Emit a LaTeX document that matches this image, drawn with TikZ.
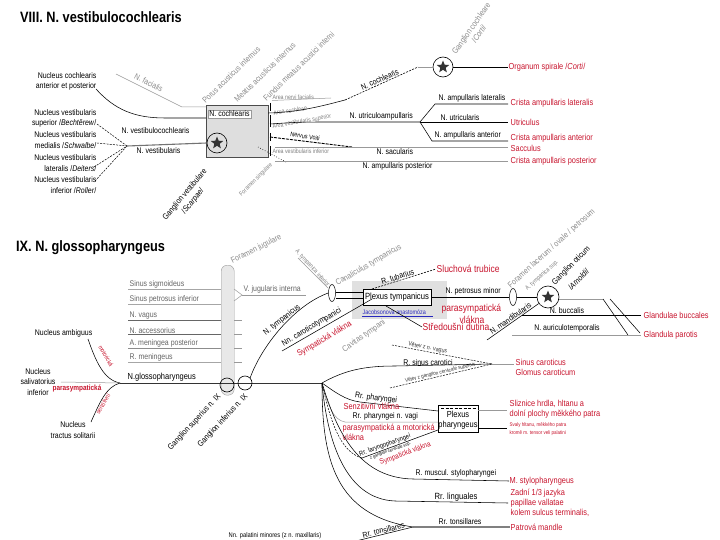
\documentclass[tikz,border=0pt]{standalone}
\usepackage{fontspec}
\setmainfont{Liberation Sans}
\newfontfamily\nar[FakeStretch=0.85]{Liberation Sans}
\usetikzlibrary{shapes.geometric}
\definecolor{myred}{RGB}{200,20,45}
\definecolor{myblue}{RGB}{40,40,190}
\begin{document}
\begin{tikzpicture}[x=1pt,y=-1pt,
  lab/.style={font=\nar\fontsize{8.2}{10.5}\selectfont, inner sep=0.5pt},
  glab/.style={font=\nar\fontsize{8.3}{9.5}\selectfont, text=black!45, inner sep=0.5pt},
  tlab/.style={font=\nar\fontsize{6.2}{7}\selectfont, text=black!50, inner sep=0.3pt},
  rlab/.style={font=\nar\fontsize{8.7}{10}\selectfont, text=myred, inner sep=0.5pt},
  rbig/.style={font=\nar\fontsize{10}{11}\selectfont, text=myred, inner sep=0.5pt},
  rtiny/.style={font=\nar\fontsize{5.3}{8}\selectfont, text=myred, inner sep=0.3pt},
  ttl/.style={font=\nar\bfseries\fontsize{15}{17}\selectfont, inner sep=0},
  nl/.style={draw=black, line width=0.55pt},
  gl/.style={draw=black!40, line width=0.5pt},
  dl/.style={draw=black, line width=0.5pt, dash pattern=on 2pt off 1.2pt},
  bl/.style={draw=black!75, line width=1.1pt},
  gang/.style={circle, draw, line width=0.6pt, minimum size=20pt, inner sep=0},
  gstar/.style={star, star points=5, star point ratio=2.3, fill=black!80, inner sep=0, minimum size=13pt},
  oval/.style={ellipse, draw, line width=0.5pt, fill=white, inner sep=0, minimum width=7pt, minimum height=17pt},
  bracket/.style={draw=black, line width=0.5pt}]
\useasboundingbox (0,0) rectangle (720,540);
\fill[white] (0,0) rectangle (720,540);

% ================= VIII =================
\node[ttl, anchor=west] (t8) at (20,17) {VIII. N. vestibulocochlearis};

\node[lab, align=right, anchor=east] (nc) at (97,81.5) {Nucleus cochlearis\\anterior et posterior};
\node[lab, align=right, anchor=east] (nvs) at (97,118.5) {Nucleus vestibularis\\superior /\textit{Bechtěrew}/};
\node[lab, align=right, anchor=east] (nvm) at (97,140) {Nucleus vestibularis\\medialis /\textit{Schwalbe}/};
\node[lab, align=right, anchor=east] (nvl) at (97,163) {Nucleus vestibularis\\lateralis /\textit{Deiters}/};
\node[lab, align=right, anchor=east] (nvi) at (97,185) {Nucleus vestibularis\\inferior /\textit{Roller}/};

% box (meatus)
\node[draw=black!70, fill=black!13, minimum width=62pt, minimum height=52pt, inner sep=0, anchor=north west] (box8) at (206,105) {};
\node[lab, fill=white, draw=black!40, inner sep=1.2pt, anchor=west] (ncoch) at (208,114) {N. cochlearis};
\node[gang] (g8v) at (217,143) {};
\node[gstar] (s8v) at (g8v) {};

% N. facialis
\coordinate (fa1) at (116,74);
\coordinate (fa2) at (182,107);
\draw[gl] (fa1) -- (fa2) -- (box8.north west |- fa2);
\node[glab, rotate=-27, anchor=south] (lfa) at (147,86) {N. facialis};

% cochlear line
\coordinate (c1) at (96,89);
\draw[nl] (c1) .. controls (115,110) and (135,118) .. (165,118) -- (206,118);
\node[lab, anchor=west] (lvc) at (121,131) {N. vestibulocochlearis};

% vestibular nuclei convergence
\coordinate (cj) at (127,146);
\draw[dl] (97,124) -- (cj);
\draw[dl] (97,143) -- (cj);
\draw[dl] (94,167) -- (cj);
\draw[dl] (95,181) -- (cj);
\draw[bl, draw=black!55] (cj) -- (g8v.west);
\node[lab, anchor=west] (lvs) at (136,151) {N. vestibularis};
\node[lab, rotate=50, align=center] (lgv) at (189,198) {Ganglion vestibulare\\/\textit{Scarpae}/};

% rotated gray labels above box
\node[glab, rotate=44, anchor=west] (lpor) at (203,102) {Porus acusticus internus};
\node[glab, rotate=44, anchor=west] (lmea) at (235,101) {Meatus acusticus internus};
\node[glab, rotate=44, anchor=west] (lfun) at (264,100) {Fundus meatus acustici interni};

% small area labels right of box
\draw[bracket] (270,103) -- (270,111);
\draw[bracket] (270,115) -- (270,127);
\draw[bracket] (270,133) -- (270,141);
\draw[bracket] (270,146) -- (270,156);
\node[tlab, anchor=south west] (lanf) at (272,100) {Area nervi facialis};
\draw[gl] (272,100.5) -- (331,98);
\node[tlab, rotate=8, anchor=west] (lac) at (273,113) {Area cochleae};
\node[tlab, rotate=10, anchor=west] (lavs) at (272,127) {Area vestibularis superior};
\node[font=\nar\fontsize{6.5}{7}\selectfont, rotate=-9, anchor=west, inner sep=0.3pt] (lvoi) at (290,134) {Nervus Voiti};
\draw[line width=0.9pt, dash pattern=on 3pt off 1pt] (270,137) -- (352,147);
\node[tlab, anchor=west] (lavi) at (272,151) {Area vestibularis inferior};
\draw[dotted, line width=0.6pt] (258,147) -- (286,162);
\node[tlab, rotate=45, anchor=east] (lfs) at (272,164) {Foramen singulare};

% N. cochlearis to ganglion cochleare
\coordinate (co1) at (345,100);
\coordinate (co2) at (418,67);
\node[gang] (g8c) at (443,67) {};
\node[gstar] (s8c) at (g8c) {};
\draw[nl] (box8.east |- 0,113) .. controls (300,112) and (322,106) .. (co1);
\draw[dl, line width=0.6pt] (co1) -- node[lab, sloped, above=0.5pt] {N. cochlearis} (co2);
\draw[gl] (co2) -- (g8c.west);
\coordinate (oc) at (508,67);
\draw[nl] (g8c.east) -- (oc);
\node[rlab, anchor=west] (rorg) at (oc) {Organum spirale /\textit{Corti}/};
\node[glab, rotate=55, align=center] (lgc) at (475,31) {Ganglion cochleare\\/\textit{Corti}/};

% N. utriculoampullaris
\coordinate (ua) at (420,122);
\draw[nl] (270,124) .. controls (300,122) .. (335,122) -- (ua);
\node[lab, anchor=south west] (lua) at (349,121) {N. utriculoampullaris};
\coordinate (al1) at (435,104);
\coordinate (al2) at (508,104);
\draw[nl] (ua) -- (al1) -- (al2);
\node[lab, anchor=south west] (lal) at (438,103) {N. ampullaris lateralis};
\coordinate (ut2) at (508,122);
\draw[nl] (ua) -- (ut2);
\node[lab, anchor=south west] (lut) at (440,121) {N. utricularis};
\coordinate (aa1) at (432,141);
\coordinate (aa2) at (508,141);
\draw[nl] (ua) -- (aa1) -- (aa2);
\node[lab, anchor=south west] (laa) at (434,140) {N. ampullaris anterior};
\coordinate (sa2) at (508,147);
\draw[gl] (275,147) -- (sa2);
\node[lab, anchor=north west] (lsa) at (376,148) {N. sacularis};
\coordinate (ap2) at (508,161);
\draw[gl] (275,161) -- (ap2);
\node[lab, anchor=north west] (lap) at (362,162) {N. ampullaris posterior};

\node[rlab, anchor=west] (r1) at (510,103.5) {Crista ampullaris lateralis};
\node[rlab, anchor=west] (r2) at (510,122) {Utriculus};
\node[rlab, anchor=west] (r3) at (510,138.5) {Crista ampullaris anterior};
\node[rlab, anchor=west] (r4) at (510,148) {Sacculus};
\node[rlab, anchor=west] (r5) at (510,161) {Crista ampullaris posterior};

% ================= IX =================
\node[ttl, anchor=west] (t9) at (16,248) {IX. N. glossopharyngeus};

\node[draw=black!40, fill=black!9, rounded corners=6pt, minimum width=13pt, minimum height=130pt, inner sep=0, anchor=north west] (band) at (221,265) {};
\node[glab, rotate=27, anchor=west] (lfj) at (231,262) {Foramen jugulare};

\foreach \yy/\tx/\cl in {289/Sinus sigmoideus/black!35, 304/Sinus petrosus inferior/black!35, 320/N. vagus/black!60, 334/N. accessorius/black!60, 348/A. meningea posterior/black!45, 362/R. meningeus/black!35}{
  \node[lab, text=black!60, anchor=south west] at (129,\yy) {\tx};
  \draw[draw=\cl, line width=0.5pt] (128,\yy) -- (221,\yy);
}
\foreach \yy in {320,334,348,362}{ \draw[gl] (234,\yy) -- (242,\yy); }
\coordinate (vj) at (242,295);
\draw[gl] (234,289) -- (vj) -- (234,301);
\coordinate (vj2) at (306,295);
\draw[gl] (vj) -- (vj2);
\node[lab, text=black!60, anchor=south west] (lvj) at (243,294) {V. jugularis interna};

% main trunk
\coordinate (fan) at (322,383);
\coordinate (m0) at (120,383);
\draw[nl, line width=0.8pt, draw=black!80] (m0) -- (fan);
\node[circle, draw, line width=0.6pt, minimum size=14pt, inner sep=0] (gsup) at (227,385) {};
\node[circle, draw, line width=0.6pt, minimum size=14pt, inner sep=0] (ginf) at (245,383) {};
\node[lab, font=\nar\fontsize{8.8}{10}\selectfont, anchor=south west] (lgp) at (127,382) {N.glossopharyngeus};
\node[lab, rotate=47, anchor=east] (lgs) at (220,395) {Ganglion superius n. IX};
\node[lab, rotate=47, anchor=east] (lgi) at (247,395) {Ganglion inferius n. IX};

% nuclei
\node[lab, anchor=east] (namb) at (93,333) {Nucleus ambiguus};
\draw[nl] (88,339) .. controls (96,362) and (104,380) .. (m0);
\node[rlab, font=\nar\fontsize{6.3}{7}\selectfont, rotate=-60] (rmot) at (106,356) {motorická};
\node[lab, align=center] (nsal) at (38,382) {Nucleus\\salivatorius\\inferior};
\draw[gl] (61,382) -- (m0);
\node[rlab, font=\nar\bfseries\fontsize{7.6}{9}\selectfont] (rpar) at (77,388.5) {parasympatická};
\node[lab, align=center] (nts) at (73,430) {Nucleus\\tractus solitarii};
\draw[nl] (91,422) .. controls (100,402) and (106,387) .. (m0);
\node[rlab, font=\nar\fontsize{6.3}{7}\selectfont, rotate=60] (rsen) at (103,404) {senzitivní};

% N. tympanicus
\node[oval] (ov1) at (332,293) {};
\draw[nl] (ginf.north east) .. controls (262,345) and (295,305) .. (ov1.west);
\node[lab, rotate=38] (lnt) at (282,320) {N. tympanicus};
\node[glab, rotate=30, anchor=west] (lct) at (336,284) {Canaliculus tympanicus};
\node[tlab, rotate=-48, anchor=west] (lati) at (296,250) {A. tympanica inferior};
\draw[gl, line width=0.4pt] (298,258) -- (328,288);

% plexus tympanicus
\fill[black!12] (352,281) rectangle (447,319);
\node[lab, font=\nar\fontsize{9}{10}\selectfont, draw, fill=white, minimum width=68pt, minimum height=16pt, inner sep=1pt] (ptym) at (397,297) {Plexus tympanicus};
\draw[nl] (ov1.east |- 0,292) -- (ptym.west |- 0,292);
\draw[nl] (ov1.east |- 0,298) -- (ptym.west |- 0,298);
\node[font=\nar\fontsize{6.4}{7}\selectfont, text=myblue, anchor=west, inner sep=0.5pt] (ljac) at (362,312.5) {Jacobsonova anastomóza};
\draw[myblue, line width=0.4pt] (362,316) -- (433,316);

\coordinate (tub) at (436,269);
\draw[dl, line width=0.6pt] (372,289) -- node[lab, sloped, above=0.3pt, pos=0.42] {R. tubarius} (tub);
\node[rbig, anchor=west] (rsl) at (tub) {Sluchová trubice};

\node[oval] (ov2) at (513,297) {};
\draw[nl] (ptym.east) -- (ov2.west);
\node[lab, anchor=south west] (lpm) at (445,296) {N. petrosus minor};
\node[rbig, anchor=west] (rpa1) at (441,308.5) {parasympatická};
\node[rbig, anchor=west] (rpa2) at (459,320) {vlákna};
\coordinate (sd) at (422,327);
\draw[nl] (386,306) -- (sd);
\node[rbig, anchor=west] (rsd) at (sd) {Středoušní dutina};
\node[glab, rotate=35] (lcav) at (364,336) {Cavitas tympani};

% Nn. caroticotympanici
\coordinate (ct1) at (282,351);
\draw[nl] (ct1) -- (372,299);
\node[lab, rotate=31, anchor=south] (lnct) at (314,331) {Nn. caroticotympanici};
\node[rlab, rotate=31, anchor=north] (rsym1) at (322,335) {Sympatická vlákna};

% ganglion oticum
\node[gang, minimum size=22pt] (got) at (548,297) {};
\node[gstar] (sot) at (got) {};
\draw[nl] (ov2.east) -- (got.west);
\node[glab, rotate=42, anchor=west] (lfl) at (509,287) {Foramen lacerum / ovale / petrosum};
\node[tlab, rotate=42, anchor=west] (lats) at (526,290) {A. tympanica sup.};
\node[lab, rotate=45, anchor=west] (lgo) at (553,284) {Ganglion oticum};
\node[lab, rotate=45, anchor=west] (lgo2) at (569,289) {/\textit{Arnoldi}/};
\coordinate (md) at (487,340);
\draw[nl] (md) -- node[lab, sloped, above=0.3pt, pos=0.5] {N. mandibularis} (got);
\coordinate (go2) at (603,299);
\draw[gl] (got.east |- go2) -- (go2);
\draw[nl] (go2) -- (628,335);
\draw[nl] (610,299) -- (640,333);
\coordinate (bu1) at (522,315);
\coordinate (bu2) at (641,315);
\draw[nl, line width=0.9pt] (bu1) -- (bu2);
\node[lab, anchor=south] (lbu) at (567,314) {N. buccalis};
\node[rlab, anchor=west] (rgb) at (643,315) {Glandulae buccales};
\coordinate (au1) at (512,335);
\coordinate (au2) at (641,335);
\draw[gl] (au1) -- (au2);
\node[lab, anchor=south] (lau) at (567,333) {N. auriculotemporalis};
\node[rlab, anchor=west] (rgp) at (643,335) {Glandula parotis};

% ---- lower branches ----
\coordinate (cs) at (492,364);
\draw[nl] (fan) .. controls (345,370) and (365,366) .. (395,366) -- (cs);
\node[lab, anchor=south] (lrsc) at (428,366) {R. sinus carotici};
\draw[dl] (392,345) -- node[tlab, text=black!80, sloped, above=0.3pt, pos=0.35] {Větev z n. vagus} (cs);
\draw[dl] (390,388) -- node[tlab, font=\nar\fontsize{5.4}{6}\selectfont, text=black!80, sloped, above=0.3pt, pos=0.5] {Větev z ganglion cervicale superius} (cs);
\draw[gl] (cs) -- (514,364);
\node[rlab, align=left, anchor=north west] (rsc) at (515,358.5) {Sinus caroticus\\Glomus caroticum};

% plexus pharyngeus
\node[draw, fill=white, minimum width=40pt, minimum height=27pt, inner sep=0, anchor=north west] (ppha) at (438,405) {};
\draw[dash pattern=on 3pt off 1.5pt, line width=0.5pt] (441,408) -- (476,408);
\node[lab, font=\nar\fontsize{8.8}{10.5}\selectfont, align=center] (lpph) at (458,420) {Plexus\\pharyngeus};

\draw[nl] (fan) .. controls (335,392) and (345,400) .. (360,402) -- (ppha.west |- 0,411);
\node[lab, rotate=-7, anchor=south west] (lrph) at (354,400) {Rr. pharyngei};
\node[rlab, anchor=west] (rsv) at (343,406.5) {Senzitivní vlákna};

\draw[gl] (fan) .. controls (328,405) and (333,420) .. (345,422) -- (ppha.west |- 0,422);
\node[lab, anchor=south west] (lrpv) at (352,421) {Rr. pharyngei n. vagi};
\node[rlab, align=left, anchor=north west] (rpm) at (342,423.5) {parasympatická a motorická\\vlákna};

\coordinate (lp1) at (362,458);
\coordinate (lp2) at (438,430);
\draw[dl] (fan) .. controls (330,420) and (340,452) .. (lp1);
\draw[nl] (lp1) -- node[lab, font=\nar\fontsize{6.8}{7}\selectfont, sloped, above=0.2pt, pos=0.32] {Rr. laryngopharyngei}
  node[font=\nar\fontsize{4.6}{5}\selectfont, sloped, below=0.4pt, pos=0.36, inner sep=0.2pt] {z ganglion cervicale sup.}
  node[rlab, font=\nar\fontsize{7.6}{8}\selectfont, sloped, below=6.5pt, pos=0.52] {Sympatická vlákna} (lp2);

\coordinate (ph1) at (507,410);
\draw[gl] (ppha.east |- ph1) -- (ph1);
\node[rlab, align=left, anchor=west] (rsl1) at (509,404) {Sliznice hrdla, hltanu a};
\node[rlab, anchor=west] (rsl2) at (509,414) {dolní plochy měkkého patra};
\coordinate (ph2) at (507,428);
\draw[nl] (ppha.east |- ph2) -- (ph2);
\node[rtiny, align=left, anchor=west] (rsv2) at (509,429) {Svaly hltanu, měkkého patra\\kromě m. tensor veli palatini};

% stylopharyngeus
\coordinate (st2) at (509,481);
\draw[nl] (fan) .. controls (335,425) and (355,478) .. (413,479) -- (st2);
\node[lab, anchor=south west] (lst) at (415,478) {R. muscul. stylopharyngei};
\node[rlab, anchor=west] (rst) at (st2) {M. stylopharyngeus};

% linguales
\coordinate (li2) at (508,503);
\draw[nl] (fan) .. controls (327,440) and (345,499) .. (395,501) -- (li2);
\node[lab, font=\nar\fontsize{9}{10}\selectfont, anchor=south] (lli) at (456,502) {Rr. linguales};
\node[rlab, align=left, anchor=west] (rli) at (510,503) {Zadní 1/3 jazyka\\papillae vallatae\\kolem sulcus terminalis,};

% tonsillares
\coordinate (to1) at (413,527);
\coordinate (to2) at (510,527);
\draw[nl] (fan) .. controls (322,460) and (335,515) .. (to1);
\draw[bl, draw=black!50, line width=1.6pt] (to1) -- (to2);
\node[lab, anchor=south] (lto) at (460,525) {Rr. tonsillares};
\node[rlab, anchor=west] (rto) at (to2) {Patrová mandle};
\coordinate (to3) at (356,541);
\draw[nl] (to3) -- node[lab, sloped, above=0.2pt, pos=0.5] {Rr. tonsillares} (to1);
\node[lab, font=\nar\fontsize{6.8}{7}\selectfont, anchor=west] (lnpm) at (228,535.5) {Nn. palatini minores (z n. maxillaris)};
\end{tikzpicture}
\end{document}
